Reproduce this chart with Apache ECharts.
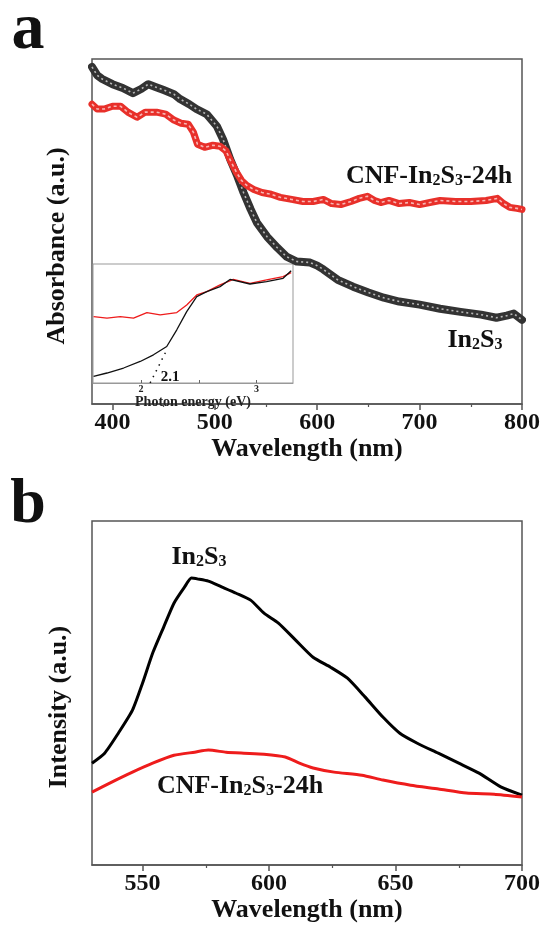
<!DOCTYPE html>
<html><head><meta charset="utf-8">
<script src="https://cdn.jsdelivr.net/npm/echarts@6/dist/echarts.min.js"></script>
<style>html,body{margin:0;padding:0;background:#fff}#c{width:543px;height:925px}</style>
</head><body><div id="c"></div>
<script>
// ---- Panel a: UV-vis absorbance ----
const absWlIn2S3 = [380,385,390,400,410,420,428,435,442,450,460,466,475,482,492,502,508,515,522,528,535,541,551,561,570,580,593,600,606,620,635,650,665,680,700,720,740,760,775,785,792,800];
const absIn2S3 = [97.7,95.3,94.2,92.7,91.6,90.1,91.3,92.7,91.9,91.0,89.8,88.4,86.9,85.5,84.0,80.5,76.7,70.9,66.0,61.3,56.4,52.6,48.5,45.3,42.7,41.3,41.0,40.1,39.0,36.0,34.0,32.3,30.8,29.7,28.8,27.6,26.7,25.9,25.0,25.6,26.2,24.4];
const absWlCNF = [380,385,392,400,408,415,424,432,443,452,460,467,474,479,483,490,498,505,511,516,521,526,531,538,546,555,564,575,586,596,606,614,623,633,641,649,656,662,670,680,690,700,710,720,735,750,765,776,782,788,795,800];
const absCNF = [86.9,85.5,85.5,86.3,86.3,84.6,83.1,84.6,84.6,84.0,82.3,81.4,81.1,78.8,75.3,74.4,75.0,74.7,73.3,70.1,67.2,64.8,63.4,62.2,61.3,60.8,59.9,59.3,58.7,58.7,59.3,58.1,57.8,58.7,59.6,60.2,59.0,58.4,59.0,58.1,58.4,57.8,58.4,59.0,58.7,58.7,59.0,59.6,58.1,57.0,56.7,56.4];
const ticksA = [400,500,600,700,800];
const minorTicksA = [450,550,650,750];

// ---- Inset: vs photon energy ----
const insetEvIn2S3 = [1.588,1.704,1.848,1.992,2.107,2.222,2.309,2.395,2.482,2.569,2.684,2.77,2.943,3.087,3.23,3.30];
const insetIn2S3 = [5.5,8.4,12.6,18.1,23.7,30.7,44.7,60,72.6,76.8,81,87,83.2,85.2,88,94.4];
const insetEvCNF = [1.588,1.704,1.819,1.934,2.05,2.165,2.309,2.395,2.482,2.569,2.684,2.799,2.943,3.087,3.23,3.30];
const insetCNF = [55.8,54.5,55.8,54.5,59.2,57.2,59.2,65.6,74,76.8,82.4,87.1,83.8,86.6,89.4,92.7];
const tangentEv = [2.078, 2.21];
const tangentVal = [0, 25.4];
const insetTicks = [2, 2.5, 3];
const insetLabels = [2, 3];

// ---- Panel b: PL intensity ----
const plWlIn2S3 = [530,535,540.4,546,550,554,558.3,562.4,566.5,569.3,572,576,581.7,587,592.7,598,603.7,610.6,617.4,624.3,631,638,645,651.7,658.6,666.9,675,683,691.6,700];
const plIn2S3 = [29.6,32.5,38.3,45.0,52.9,61.6,69.1,76.1,80.7,83.4,83.1,82.5,80.7,79.0,77.0,73.2,70.3,65.3,60.4,57.5,54.3,48.8,43.0,38.3,35.4,32.5,29.6,26.7,22.7,20.3];
const plWlCNF = [530,537.8,546,554,562.4,570.6,576,583,590,598,606.4,612,617.4,625.7,636.7,645,656,667,678,689,700];
const plCNF = [21.2,24.1,27.0,29.6,31.9,32.8,33.4,32.8,32.5,32.2,31.4,29.6,28.2,27.0,26.1,24.7,23.2,22.1,20.9,20.6,19.8];
const ticksB = [550,600,650,700];
const minorTicksB = [575,625,675];

const zip = (a, b) => a.map((v, i) => [v, b[i]]);
const F = '"Liberation Serif","Times New Roman",serif';
const FR = '#ee1c1c';
const AX = '#555';

function mainX(grid, min, max, major, minor) {
  return [{
    gridIndex: grid, type: 'value', min: min, max: max, position: 'bottom',
    axisLine: {lineStyle: {color: AX, width: 1.5}},
    axisTick: {show: true, inside: false, length: 6, customValues: major, lineStyle: {color: AX, width: 1.5}},
    axisLabel: {customValues: major, margin: 7, fontFamily: F, fontWeight: 'bold', fontSize: 24, color: '#111'},
    splitLine: {show: false},
    name: 'Wavelength (nm)', nameLocation: 'middle', nameGap: 25,
    nameTextStyle: {fontFamily: F, fontWeight: 'bold', fontSize: 26, color: '#111'}
  }, {
    gridIndex: grid, type: 'value', min: min, max: max, position: 'bottom',
    axisLine: {show: false},
    axisTick: {show: true, inside: false, length: 3, customValues: minor, lineStyle: {color: AX, width: 1.2}},
    axisLabel: {show: false}, splitLine: {show: false}
  }];
}
function hiddenY(grid) {
  return {gridIndex: grid, type: 'value', min: 0, max: 100,
    axisLine: {show: false}, axisTick: {show: false}, axisLabel: {show: false}, splitLine: {show: false}};
}
function richLabel(parts, x, y) {
  return {
    type: 'text', x: x, y: y, z: 100,
    style: {
      text: parts, align: 'center', verticalAlign: 'middle', textAlign: 'center', textVerticalAlign: 'middle',
      rich: {
        m: {fontFamily: F, fontWeight: 'bold', fontSize: 26, lineHeight: 26, fill: '#111', verticalAlign: 'middle'},
        s: {fontFamily: F, fontWeight: 'bold', fontSize: 16, lineHeight: 16, fill: '#111', verticalAlign: 'bottom'}
      }
    }
  };
}
function plainText(t, x, y, size, rot) {
  return {type: 'text', x: x, y: y, rotation: rot || 0, z: 100,
    style: {text: t, align: 'center', verticalAlign: 'middle', textAlign: 'center', textVerticalAlign: 'middle',
      fontFamily: F, fontWeight: 'bold', fontSize: size, fill: '#111',
      font: 'bold ' + size + 'px ' + F}};
}
function band(xi, yi, data, color, width, dash, z) {
  return [
    {type: 'line', xAxisIndex: xi, yAxisIndex: yi, data: data, z: z, showSymbol: false,
      lineStyle: {color: color, width: width, cap: 'round', join: 'round'}},
    {type: 'line', xAxisIndex: xi, yAxisIndex: yi, data: data, z: z + 0.1, showSymbol: false,
      lineStyle: {color: 'rgba(255,255,255,0.65)', width: 1.6, type: dash}}
  ];
}

const chart = echarts.init(document.getElementById('c'), null, {renderer: 'canvas'});
const option = {
  animation: false,
  backgroundColor: '#fff',
  grid: [
    {left: 92, top: 59, width: 430, height: 345, show: true, borderColor: AX, borderWidth: 1.5},
    {left: 92, top: 521, width: 430, height: 344, show: true, borderColor: AX, borderWidth: 1.5},
    {left: 93, top: 264, width: 200, height: 119, show: true, borderColor: '#999', borderWidth: 1}
  ],
  xAxis: [
    ...mainX(0, 380, 800, ticksA, minorTicksA),
    ...mainX(1, 530, 700, ticksB, minorTicksB),
    {
      gridIndex: 2, type: 'value', min: 1.583, max: 3.316, position: 'bottom',
      axisLine: {lineStyle: {color: '#999', width: 1}},
      axisTick: {show: true, inside: true, length: 3, customValues: insetTicks, lineStyle: {color: '#666'}},
      axisLabel: {customValues: insetLabels, margin: 1, fontFamily: F, fontWeight: 'bold', fontSize: 10, color: '#222'},
      splitLine: {show: false},
      name: 'Photon energy (eV)', nameLocation: 'middle', nameGap: 8,
      nameTextStyle: {fontFamily: F, fontWeight: 'bold', fontSize: 14, color: '#222'}
    }
  ],
  yAxis: [hiddenY(0), hiddenY(1), hiddenY(2)],
  series: [
    ...band(0, 0, zip(absWlIn2S3, absIn2S3), '#333', 8, [2, 3], 2),
    ...band(0, 0, zip(absWlCNF, absCNF), '#e8302a', 7, [3, 3], 3),
    {type: 'line', xAxisIndex: 4, yAxisIndex: 2, data: zip(insetEvCNF, insetCNF), z: 5,
      showSymbol: false, lineStyle: {color: FR, width: 1.3}},
    {type: 'line', xAxisIndex: 4, yAxisIndex: 2, data: zip(insetEvIn2S3, insetIn2S3), z: 5,
      showSymbol: false, lineStyle: {color: '#111', width: 1.3}},
    {type: 'line', xAxisIndex: 4, yAxisIndex: 2, data: zip(tangentEv, tangentVal), z: 5,
      showSymbol: false, lineStyle: {color: '#111', width: 1.5, type: [1.5, 5]}},
    {type: 'line', xAxisIndex: 2, yAxisIndex: 1, data: zip(plWlIn2S3, plIn2S3), smooth: 0.2,
      showSymbol: false, lineStyle: {color: '#000', width: 3}},
    {type: 'line', xAxisIndex: 2, yAxisIndex: 1, data: zip(plWlCNF, plCNF), smooth: 0.2,
      showSymbol: false, lineStyle: {color: FR, width: 3}}
  ],
  graphic: [
    plainText('a', 28, 31, 66),
    plainText('b', 28, 505, 64),
    plainText('Absorbance (a.u.)', 57, 246, 26, Math.PI / 2),
    plainText('Intensity (a.u.)', 59, 707, 26, Math.PI / 2),
    plainText('2.1', 170, 377, 15),
    richLabel('{m|CNF-In}{s|2}{m|S}{s|3}{m|-24h}', 429, 176),
    richLabel('{m|In}{s|2}{m|S}{s|3}', 475, 340),
    richLabel('{m|In}{s|2}{m|S}{s|3}', 199, 557),
    richLabel('{m|CNF-In}{s|2}{m|S}{s|3}{m|-24h}', 240, 786)
  ]
};
chart.setOption(option);
</script></body></html>
